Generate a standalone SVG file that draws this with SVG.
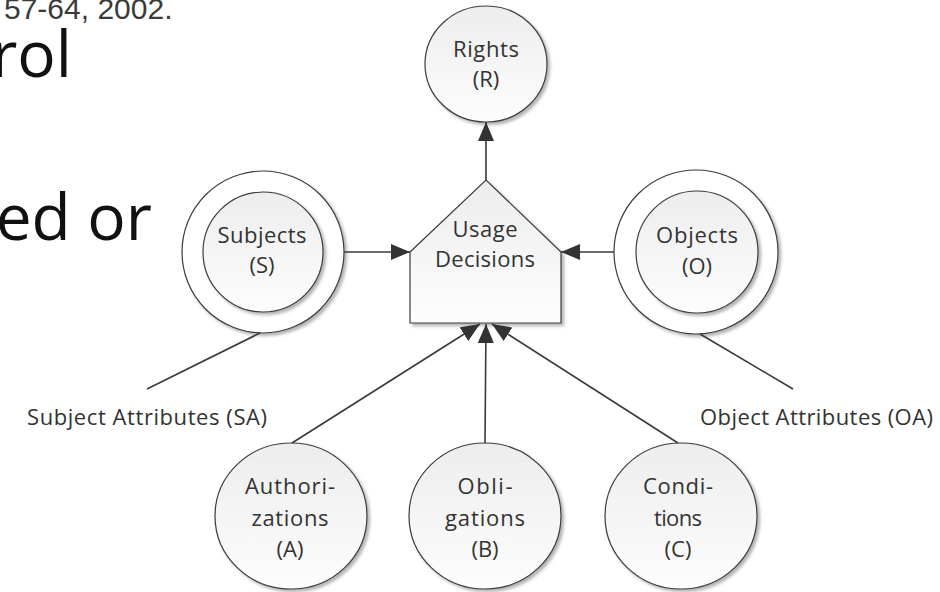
<svg xmlns="http://www.w3.org/2000/svg" width="940" height="592" viewBox="0 0 940 592">
<defs>
<style>
.slide{font-family:"Open Sans","Noto Sans","Liberation Sans",sans-serif;fill:#111}
.ref{font-family:"Liberation Sans",Arial,sans-serif;fill:#3a3a3a;font-size:30px}
.lbl{font-family:"Open Sans","Noto Sans","Liberation Sans",sans-serif;font-size:22px;fill:#333;text-anchor:middle}
.attr{font-family:"Open Sans","Noto Sans","Liberation Sans",sans-serif;font-size:22px;fill:#333}
.shape{stroke:#3c3c3c;stroke-width:1.2;fill:url(#g)}
.ring{stroke:#3c3c3c;stroke-width:1.2;fill:#fff}
.conn line{stroke:#3a3a3a;stroke-width:1.6;fill:none}
.arr{marker-end:url(#ah)}
</style>
<linearGradient id="g" x1="0" y1="0" x2="0" y2="1">
<stop offset="0" stop-color="#ededed"/>
<stop offset="1" stop-color="#fdfdfd"/>
</linearGradient>
<filter id="sh" x="-20%" y="-20%" width="140%" height="140%">
<feDropShadow dx="2.5" dy="2.5" stdDeviation="1.5" flood-color="#000" flood-opacity="0.3"/>
</filter>
<marker id="ah" markerUnits="userSpaceOnUse" markerWidth="19" markerHeight="16" refX="19" refY="8" orient="auto">
<path d="M0,0 L19,8 L0,16 Z" fill="#333"/>
</marker>
</defs>

<g id="slide-text">
<text class="ref" x="4" y="19">57-64, 2002.</text>
<text class="slide" x="72" y="77" font-size="64" text-anchor="end">rol</text>
<text class="slide" x="152" y="240" font-size="64" text-anchor="end">ed or</text>
</g>

<g id="rights">
<ellipse class="shape" cx="486" cy="64" rx="61" ry="58" filter="url(#sh)"/>
<text class="lbl" x="486" y="57" textLength="66">Rights</text>
<text class="lbl" x="486" y="87">(R)</text>
</g>

<g id="usage-decisions">
<polygon class="shape" points="410,252 486,180 561,252 561,323 410,323" filter="url(#sh)"/>
<text class="lbl" x="485" y="237" textLength="65">Usage</text>
<text class="lbl" x="485" y="267" textLength="100">Decisions</text>
</g>

<g id="subjects">
<circle class="ring" cx="263" cy="252" r="81" filter="url(#sh)"/>
<circle class="shape" cx="263" cy="252" r="60" filter="url(#sh)"/>
<text class="lbl" x="262" y="243" textLength="89">Subjects</text>
<text class="lbl" x="262" y="273">(S)</text>
</g>

<g id="objects">
<circle class="ring" cx="696" cy="252" r="82" filter="url(#sh)"/>
<circle class="shape" cx="697" cy="252" r="61" filter="url(#sh)"/>
<text class="lbl" x="697" y="243" textLength="82">Objects</text>
<text class="lbl" x="697" y="274">(O)</text>
</g>

<g id="authorizations">
<ellipse class="shape" cx="291" cy="516" rx="76" ry="73" filter="url(#sh)"/>
<text class="lbl" x="290" y="494" textLength="90">Authori-</text>
<text class="lbl" x="290" y="526" textLength="77">zations</text>
<text class="lbl" x="290" y="557">(A)</text>
</g>

<g id="obligations">
<ellipse class="shape" cx="485" cy="516" rx="76" ry="73" filter="url(#sh)"/>
<text class="lbl" x="485" y="494" textLength="55">Obli-</text>
<text class="lbl" x="485" y="526" textLength="80">gations</text>
<text class="lbl" x="485" y="557">(B)</text>
</g>

<g id="conditions">
<ellipse class="shape" cx="681" cy="516" rx="76" ry="73" filter="url(#sh)"/>
<text class="lbl" x="678" y="494" textLength="70">Condi-</text>
<text class="lbl" x="678" y="526" textLength="48">tions</text>
<text class="lbl" x="678" y="557">(C)</text>
</g>

<g id="subject-attributes">
<text class="attr" x="27" y="425" textLength="240">Subject Attributes (SA)</text>
</g>

<g id="object-attributes">
<text class="attr" x="700" y="425" textLength="233">Object Attributes (OA)</text>
</g>

<g id="connectors" class="conn">
<line class="arr" x1="486" y1="180" x2="486" y2="122"/>
<line class="arr" x1="344" y1="252" x2="410" y2="252"/>
<line class="arr" x1="614" y1="252" x2="561" y2="252"/>
<line class="arr" x1="292" y1="443" x2="480" y2="324"/>
<line class="arr" x1="485" y1="443" x2="486" y2="324"/>
<line class="arr" x1="678" y1="443" x2="492" y2="324"/>
<line x1="260" y1="333" x2="147" y2="389"/>
<line x1="700" y1="334" x2="793" y2="389"/>
</g>
</svg>
